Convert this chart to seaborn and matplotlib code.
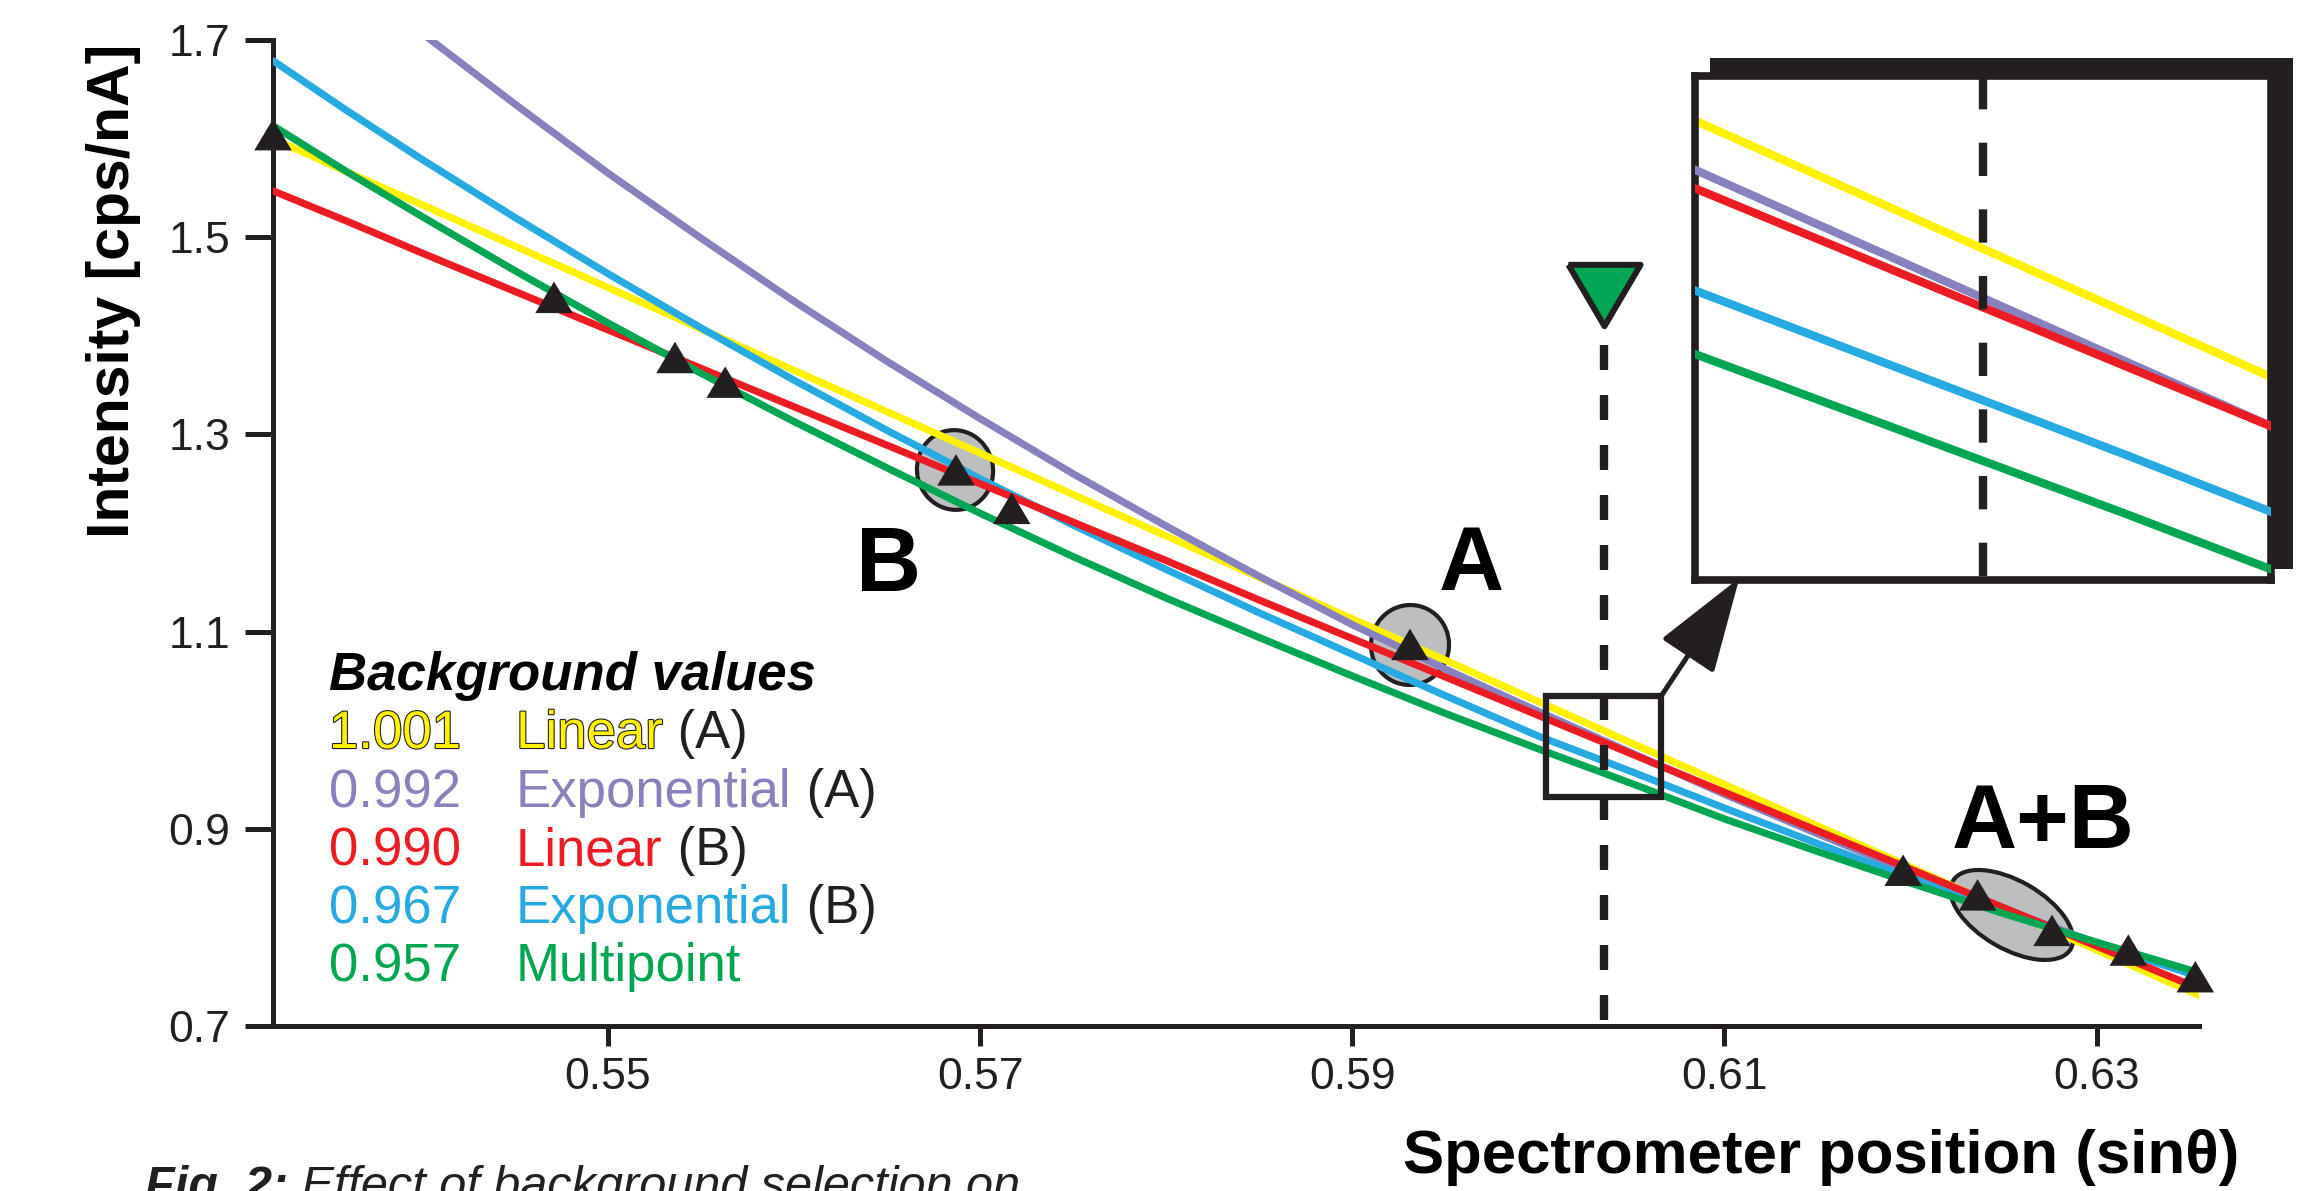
import matplotlib
matplotlib.use("Agg")
import matplotlib.pyplot as plt
import matplotlib.patches as mpatches
import matplotlib.transforms as mtransforms
import matplotlib.patheffects as pe
from matplotlib.markers import MarkerStyle
import pandas as pd
import seaborn as sns

sns.set_theme(style="white")
plt.rcParams['font.family'] = ['Liberation Sans', 'DejaVu Sans']

# --- values ---
sin_theta = [0.532, 0.536, 0.54, 0.545, 0.55, 0.555, 0.56, 0.565, 0.57, 0.575, 0.58,
             0.585, 0.59, 0.595, 0.60, 0.605, 0.61, 0.615, 0.62, 0.625, 0.63, 0.6355]
bg_linear_a = [1.600, 1.566, 1.533, 1.491, 1.449, 1.407, 1.365, 1.323, 1.281, 1.239, 1.197,
               1.155, 1.113, 1.071, 1.029, 0.987, 0.945, 0.903, 0.861, 0.819, 0.777, 0.731]
bg_expon_a = [1.831, 1.768, 1.707, 1.635, 1.565, 1.499, 1.435, 1.374, 1.316, 1.260, 1.207,
              1.156, 1.107, 1.062, 1.019, 0.977, 0.935, 0.895, 0.856, 0.819, 0.784, 0.751]
bg_linear_b = [1.547, 1.516, 1.484, 1.445, 1.406, 1.367, 1.328, 1.289, 1.250, 1.211, 1.172,
               1.132, 1.093, 1.054, 1.015, 0.976, 0.937, 0.898, 0.859, 0.820, 0.781, 0.738]
bg_expon_b = [1.679, 1.628, 1.579, 1.520, 1.463, 1.408, 1.355, 1.304, 1.255, 1.208, 1.163,
              1.119, 1.077, 1.035, 0.994, 0.958, 0.921, 0.885, 0.850, 0.816, 0.784, 0.750]
bg_multi = [1.613, 1.566, 1.521, 1.466, 1.413, 1.362, 1.313, 1.266, 1.220, 1.176, 1.134,
            1.094, 1.055, 1.017, 0.981, 0.946, 0.910, 0.877, 0.845, 0.814, 0.785, 0.754]

meas_x = [0.5320, 0.5471, 0.5536, 0.5563, 0.5687, 0.5717, 0.5931, 0.6196, 0.6236, 0.6276, 0.6317, 0.6353]
meas_y = [1.604, 1.439, 1.378, 1.353, 1.264, 1.225, 1.087, 0.858, 0.833, 0.797, 0.777, 0.750]

peak_pos = 0.6035
peak_marker_y = 1.441
dash_top = 1.391

fit_names = ["Linear (A)", "Exponential (A)", "Linear (B)", "Exponential (B)", "Multipoint"]
fit_colors = ["#fff200", "#8781bd", "#ed1c24", "#27aae1", "#00a651"]
fit_zorder = [2, 3, 5, 4, 6]

bg_values = ["1.001", "0.992", "0.990", "0.967", "0.957"]
bg_methods = ["Linear", "Exponential", "Linear", "Exponential", "Multipoint"]
bg_sides = ["(A)", "(A)", "(B)", "(B)", ""]

xticks = [0.55, 0.57, 0.59, 0.61, 0.63]
yticks = [0.7, 0.9, 1.1, 1.3, 1.5, 1.7]
zoom_x = (0.6004, 0.6066)
zoom_y = (0.9323, 1.0347)

ink = "#231f20"
curves = [bg_linear_a, bg_expon_a, bg_linear_b, bg_expon_b, bg_multi]
df = pd.DataFrame(
    [(n, x, v) for n, vals in zip(fit_names, curves) for x, v in zip(sin_theta, vals)],
    columns=["fit", "sin_theta", "intensity"],
)

fig = plt.figure(figsize=(23.07, 11.91), dpi=100)
ax = fig.add_axes([0.11834, 0.13854, 0.83485, 0.82788])
ax.set_facecolor("none")

for name, col, z in zip(fit_names, fit_colors, fit_zorder):
    sns.lineplot(data=df[df["fit"] == name], x="sin_theta", y="intensity", color=col,
                 lw=5.2, ax=ax, zorder=z, estimator=None, sort=False, legend=False)


def px_ellipse(cx, cy, w, h, angle):
    # ellipse sized in pixels, centred on a data point
    tr = mtransforms.Affine2D() + mtransforms.ScaledTranslation(cx, cy, ax.transData)
    e = mpatches.Ellipse((0, 0), w, h, angle=angle, transform=tr,
                         facecolor="#bcbec0", edgecolor=ink, lw=3, zorder=1.5)
    ax.add_patch(e)


px_ellipse(0.56865, 1.2639, 76, 80, 15)
px_ellipse(0.5931, 1.0864, 78, 80, -10)
px_ellipse(0.62544, 0.8126, 136, 68, -30)

tri_up = MarkerStyle([(-1, -0.84), (1, -0.84), (0, 0.84), (-1, -0.84)])
sns.scatterplot(x=meas_x, y=meas_y, marker=tri_up, s=27 ** 2, color=ink,
                edgecolor="none", linewidth=0, ax=ax, zorder=10, clip_on=False)

# peak position
ax.plot([peak_pos, peak_pos], [dash_top, 0.7], color=ink, lw=6, dashes=(3, 3), zorder=7)
ax.plot([peak_pos], [peak_marker_y], marker=[(-1, 0.85), (1, 0.85), (0, -0.85), (-1, 0.85)],
        ms=52, mfc="#00a651", mec=ink, mew=4.3, clip_on=False, zorder=9)

ax.add_patch(mpatches.Rectangle((zoom_x[0], zoom_y[0]), zoom_x[1] - zoom_x[0], zoom_y[1] - zoom_y[0],
                                fill=False, ec=ink, lw=4.5, zorder=7.5))
ax.annotate("", xy=(0.6108, 1.1544), xytext=(zoom_x[1], zoom_y[1]),
            arrowprops=dict(arrowstyle="-|>,head_length=3.0,head_width=1.0", mutation_scale=20,
                            lw=3.6, color=ink, shrinkA=0, shrinkB=0),
            zorder=8, annotation_clip=False)

for txt, x, y in [("B", 0.5651, 1.1412), ("A", 0.5964, 1.1422), ("A+B", 0.6271, 0.8805)]:
    ax.text(x, y, txt, fontsize=65, fontweight="bold", ha="center", va="baseline", color="black")

ax.set_xlim(0.532, 0.6355)
ax.set_ylim(0.7, 1.7)
ax.set_xticks(xticks)
ax.set_xticklabels([f"{t:.2f}" for t in xticks])
ax.set_yticks(yticks)
ax.set_yticklabels([f"{t:.1f}" for t in yticks])
ax.set_xlabel("")
ax.set_ylabel("")
sns.despine(ax=ax)
for s in ["left", "bottom"]:
    ax.spines[s].set_linewidth(3.6)
    ax.spines[s].set_color(ink)
ax.tick_params(axis="y", length=20, width=3.6, pad=11, labelsize=32, colors=ink, left=True)
ax.tick_params(axis="x", length=14.5, width=3.6, pad=8, labelsize=32, colors=ink, bottom=True)

fig.text(0.0611, 0.7557, "Intensity [cps/nA]", rotation=90, ha="right", va="center",
         fontsize=42.5, fontweight="bold", color="black")
fig.text(0.9705, 0.0151, "Spectrometer position (sin\u03b8)", ha="right", va="baseline",
         fontsize=44.5, fontweight="bold", color="black")

# background values block
fig.text(0.1426, 1 - 690 / 1191, "Background values", fontsize=38, fontweight="bold",
         style="italic", color="black", va="baseline")
row_base = [748, 807, 865, 923, 981]
for val, meth, side, col, yb in zip(bg_values, bg_methods, bg_sides, fit_colors, row_base):
    fx = [pe.withStroke(linewidth=1.6, foreground=ink)] if col == "#fff200" else None
    fig.text(0.1426, 1 - yb / 1191, val, fontsize=38, color=col, va="baseline", path_effects=fx)
    t = fig.text(0.2237, 1 - yb / 1191, meth, fontsize=38, color=col, va="baseline", path_effects=fx)
    if side:
        ax.annotate(" " + side, xy=(1, 0), xycoords=t, va="bottom", ha="left",
                    fontsize=38, color=ink, annotation_clip=False)

cap = fig.text(0.0629, 1 - 1165 / 1191, "Fig. 2:", fontsize=35, fontweight="bold",
               style="italic", color=ink, va="top")
ax.annotate(" Effect of background selection on", xy=(1, 0), xycoords=cap, va="bottom",
            ha="left", fontsize=35, style="italic", color=ink, annotation_clip=False)

# magnified inset with drop shadow
fig.add_artist(mpatches.Rectangle((0.7412, 0.5222), 0.2527, 0.4287, transform=fig.transFigure,
                                  facecolor=ink, edgecolor="none", zorder=2))
ins = fig.add_axes([0.73472, 0.51301, 0.24968, 0.42318], zorder=3)
ins.set_facecolor("white")
for name, col, z in zip(fit_names, fit_colors, fit_zorder):
    sns.lineplot(data=df[df["fit"] == name], x="sin_theta", y="intensity", color=col,
                 lw=6, ax=ins, zorder=z, estimator=None, sort=False, legend=False)
ins.plot([peak_pos, peak_pos], [zoom_y[1], zoom_y[0]], color=ink, lw=6, dashes=(4, 4), zorder=7)
ins.set_xlim(*zoom_x)
ins.set_ylim(*zoom_y)
ins.set_xticks([])
ins.set_yticks([])
ins.set_xlabel("")
ins.set_ylabel("")
for s in ins.spines.values():
    s.set_visible(True)
    s.set_linewidth(5.5)
    s.set_color(ink)

fig.savefig("out.png", dpi=100)
